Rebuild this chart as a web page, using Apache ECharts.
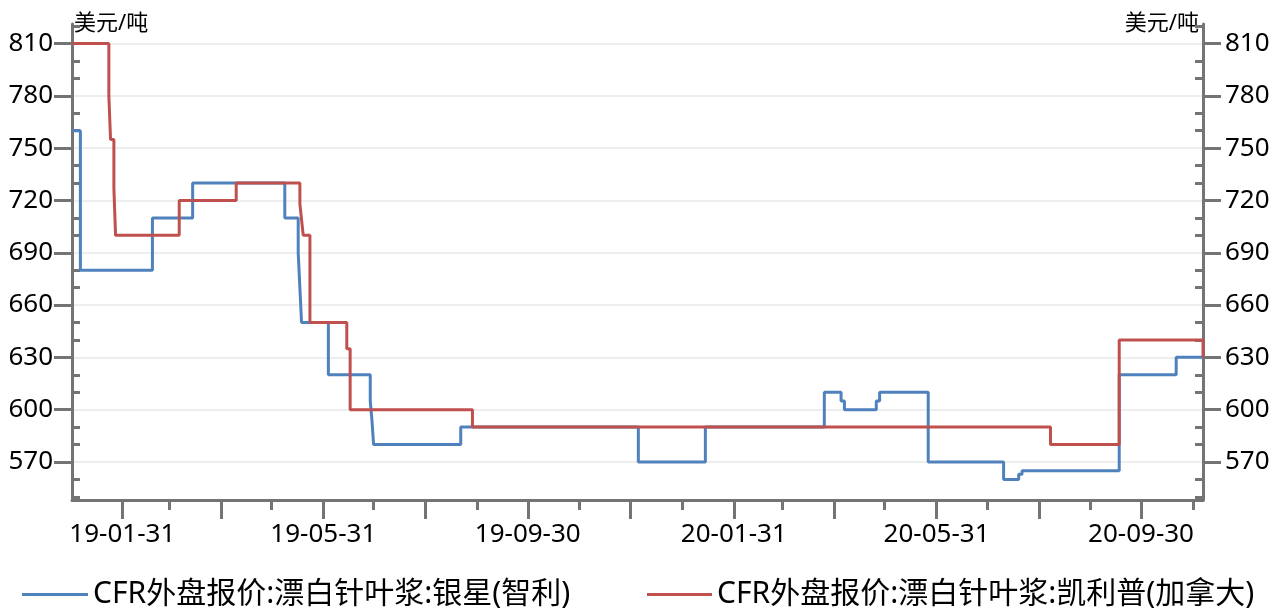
<!DOCTYPE html>
<html><head><meta charset="utf-8">
<script src="https://cdn.jsdelivr.net/npm/echarts@6/dist/echarts.min.js"></script>
<style>html,body{margin:0;padding:0;background:#fff}#c{width:1274px;height:612px}</style>
</head><body><div id="c"></div>
<script>
const seriesNames = ['CFR外盘报价:漂白针叶浆:银星(智利)', 'CFR外盘报价:漂白针叶浆:凯利普(加拿大)'];
const unitLabel = '美元/吨';
const startDate = '2019-01-01';
const endDate = '2020-11-06';
const yTickValues = [570, 600, 630, 660, 690, 720, 750, 780, 810];
const yMinorTickValues = [550, 560, 580, 590, 610, 620, 640, 650, 670, 680, 700, 710, 730, 740, 760, 770, 790, 800, 820];
const yMin = 548.2;
const yMax = 821.2;
const majorTickMonths = [1, 3, 5, 7, 9, 11];
const minorTickMonths = [2, 4, 6, 8, 10, 12];
const labelMonths = [1, 5, 9];

// 银星(智利): dates where the price changes, and the new price
const blueDates = ['2019-01-01','2019-01-06','2019-02-18','2019-03-14','2019-05-08','2019-05-16','2019-05-17','2019-05-18','2019-06-03','2019-06-28','2019-06-29','2019-06-30','2019-08-21','2019-12-05','2020-01-14','2020-03-25','2020-04-04','2020-04-06','2020-04-25','2020-04-27','2020-05-26','2020-07-10','2020-07-19','2020-07-21','2020-09-17','2020-10-21','2020-11-06'];
const blueValues = [760,680,710,730,710,690,670,650,620,605,594,580,590,570,590,610,605,600,605,610,570,560,563,565,620,630,630];

// 凯利普(加拿大)
const redDates = ['2019-01-01','2019-01-23','2019-01-24','2019-01-26','2019-01-27','2019-03-06','2019-04-09','2019-05-17','2019-05-18','2019-05-19','2019-05-23','2019-06-14','2019-06-16','2019-08-28','2020-08-07','2020-09-17','2020-11-06'];
const redValues = [810,780,755,727,700,720,730,718,709,700,650,635,600,590,580,640,630];

const blueColor = '#4f81bd';
const redColor = '#c0504d';
const axisColor = '#747474';
const fontFam = "'Noto Sans', 'Noto Sans CJK SC', sans-serif";

function buildDays(s, e) {
  const out = [];
  const t0 = Date.parse(s + 'T00:00:00Z');
  const t1 = Date.parse(e + 'T00:00:00Z');
  for (let t = t0; t <= t1; t += 86400000) out.push(new Date(t).toISOString().slice(0, 10));
  return out;
}
const days = buildDays(startDate, endDate);
function monthEndOf(v, months) {
  const d = new Date(v + 'T00:00:00Z');
  const n = new Date(d.getTime() + 86400000);
  if (n.getUTCMonth() === d.getUTCMonth()) return false;
  return months.indexOf(d.getUTCMonth() + 1) >= 0;
}
function pairs(ds, vs) { return ds.map((d, i) => [d, vs[i]]); }

const yAxisMain = (pos) => ({
  type: 'value', position: pos, min: yMin, max: yMax, splitNumber: 9,
  name: unitLabel, nameLocation: 'end', nameGap: 0,
  nameTextStyle: {
    align: pos === 'left' ? 'left' : 'right', verticalAlign: 'middle',
    fontSize: 22, color: '#000', fontFamily: fontFam,
    padding: pos === 'left' ? [0, 0, 0, 2] : [0, 4, 0, 0]
  },
  axisLine: { show: true, lineStyle: { color: axisColor, width: 3 } },
  axisTick: { show: true, length: 18, customValues: yTickValues, lineStyle: { color: axisColor, width: 3 } },
  minorTick: { show: false },
  axisLabel: { customValues: yTickValues, margin: pos === 'left' ? 19 : 22, fontSize: 26, color: '#000', fontFamily: fontFam },
  splitLine: { show: pos === 'left', lineStyle: { color: '#e9e9e9', width: 1.5 } }
});
const yAxisMinor = (pos) => ({
  type: 'value', position: pos, min: yMin, max: yMax, splitNumber: 9,
  axisLine: { show: false },
  axisTick: { show: true, inside: true, length: 8, customValues: yMinorTickValues, lineStyle: { color: axisColor, width: 3 } },
  axisLabel: { show: false },
  splitLine: { show: false }
});

const chart = echarts.init(document.getElementById('c'), null, { renderer: 'canvas' });
chart.setOption({
  animation: false,
  backgroundColor: '#fff',
  textStyle: { fontFamily: fontFam },
  grid: { left: 72, right: 71, top: 24, bottom: 112, containLabel: false, outerBoundsMode: 'none' },
  legend: [
    { data: [seriesNames[0]], left: 22, top: 579.5, icon: 'rect', itemWidth: 66, itemHeight: 3, padding: 0,
      textStyle: { fontSize: 30, color: '#000', fontFamily: fontFam } },
    { data: [seriesNames[1]], left: 647, top: 579.5, icon: 'rect', itemWidth: 65, itemHeight: 3, padding: 0,
      textStyle: { fontSize: 30, color: '#000', fontFamily: fontFam } }
  ],
  xAxis: [
    {
      type: 'category', data: days, boundaryGap: false, position: 'bottom',
      axisLine: { show: true, onZero: false, lineStyle: { color: axisColor, width: 3 } },
      axisTick: { show: true, length: 19, interval: (i, v) => monthEndOf(v, majorTickMonths), lineStyle: { color: axisColor, width: 3 } },
      axisLabel: { interval: (i, v) => monthEndOf(v, labelMonths), formatter: v => v.slice(2), margin: 22, fontSize: 26, color: '#000', fontFamily: fontFam },
      splitLine: { show: false }
    },
    {
      type: 'category', data: days, boundaryGap: false, position: 'bottom',
      axisLine: { show: false, onZero: false },
      axisTick: { show: true, length: 10, interval: (i, v) => monthEndOf(v, minorTickMonths), lineStyle: { color: axisColor, width: 3 } },
      axisLabel: { show: false },
      splitLine: { show: false }
    }
  ],
  yAxis: [yAxisMain('left'), yAxisMain('right'), yAxisMinor('left'), yAxisMinor('right')],
  series: [
    { name: seriesNames[0], type: 'line', step: 'end', symbol: 'none', xAxisIndex: 0, yAxisIndex: 0,
      data: pairs(blueDates, blueValues), lineStyle: { color: blueColor, width: 3 }, itemStyle: { color: blueColor } },
    { name: seriesNames[1], type: 'line', step: 'end', symbol: 'none', xAxisIndex: 0, yAxisIndex: 0,
      data: pairs(redDates, redValues), lineStyle: { color: redColor, width: 3 }, itemStyle: { color: redColor } }
  ]
});
</script></body></html>
